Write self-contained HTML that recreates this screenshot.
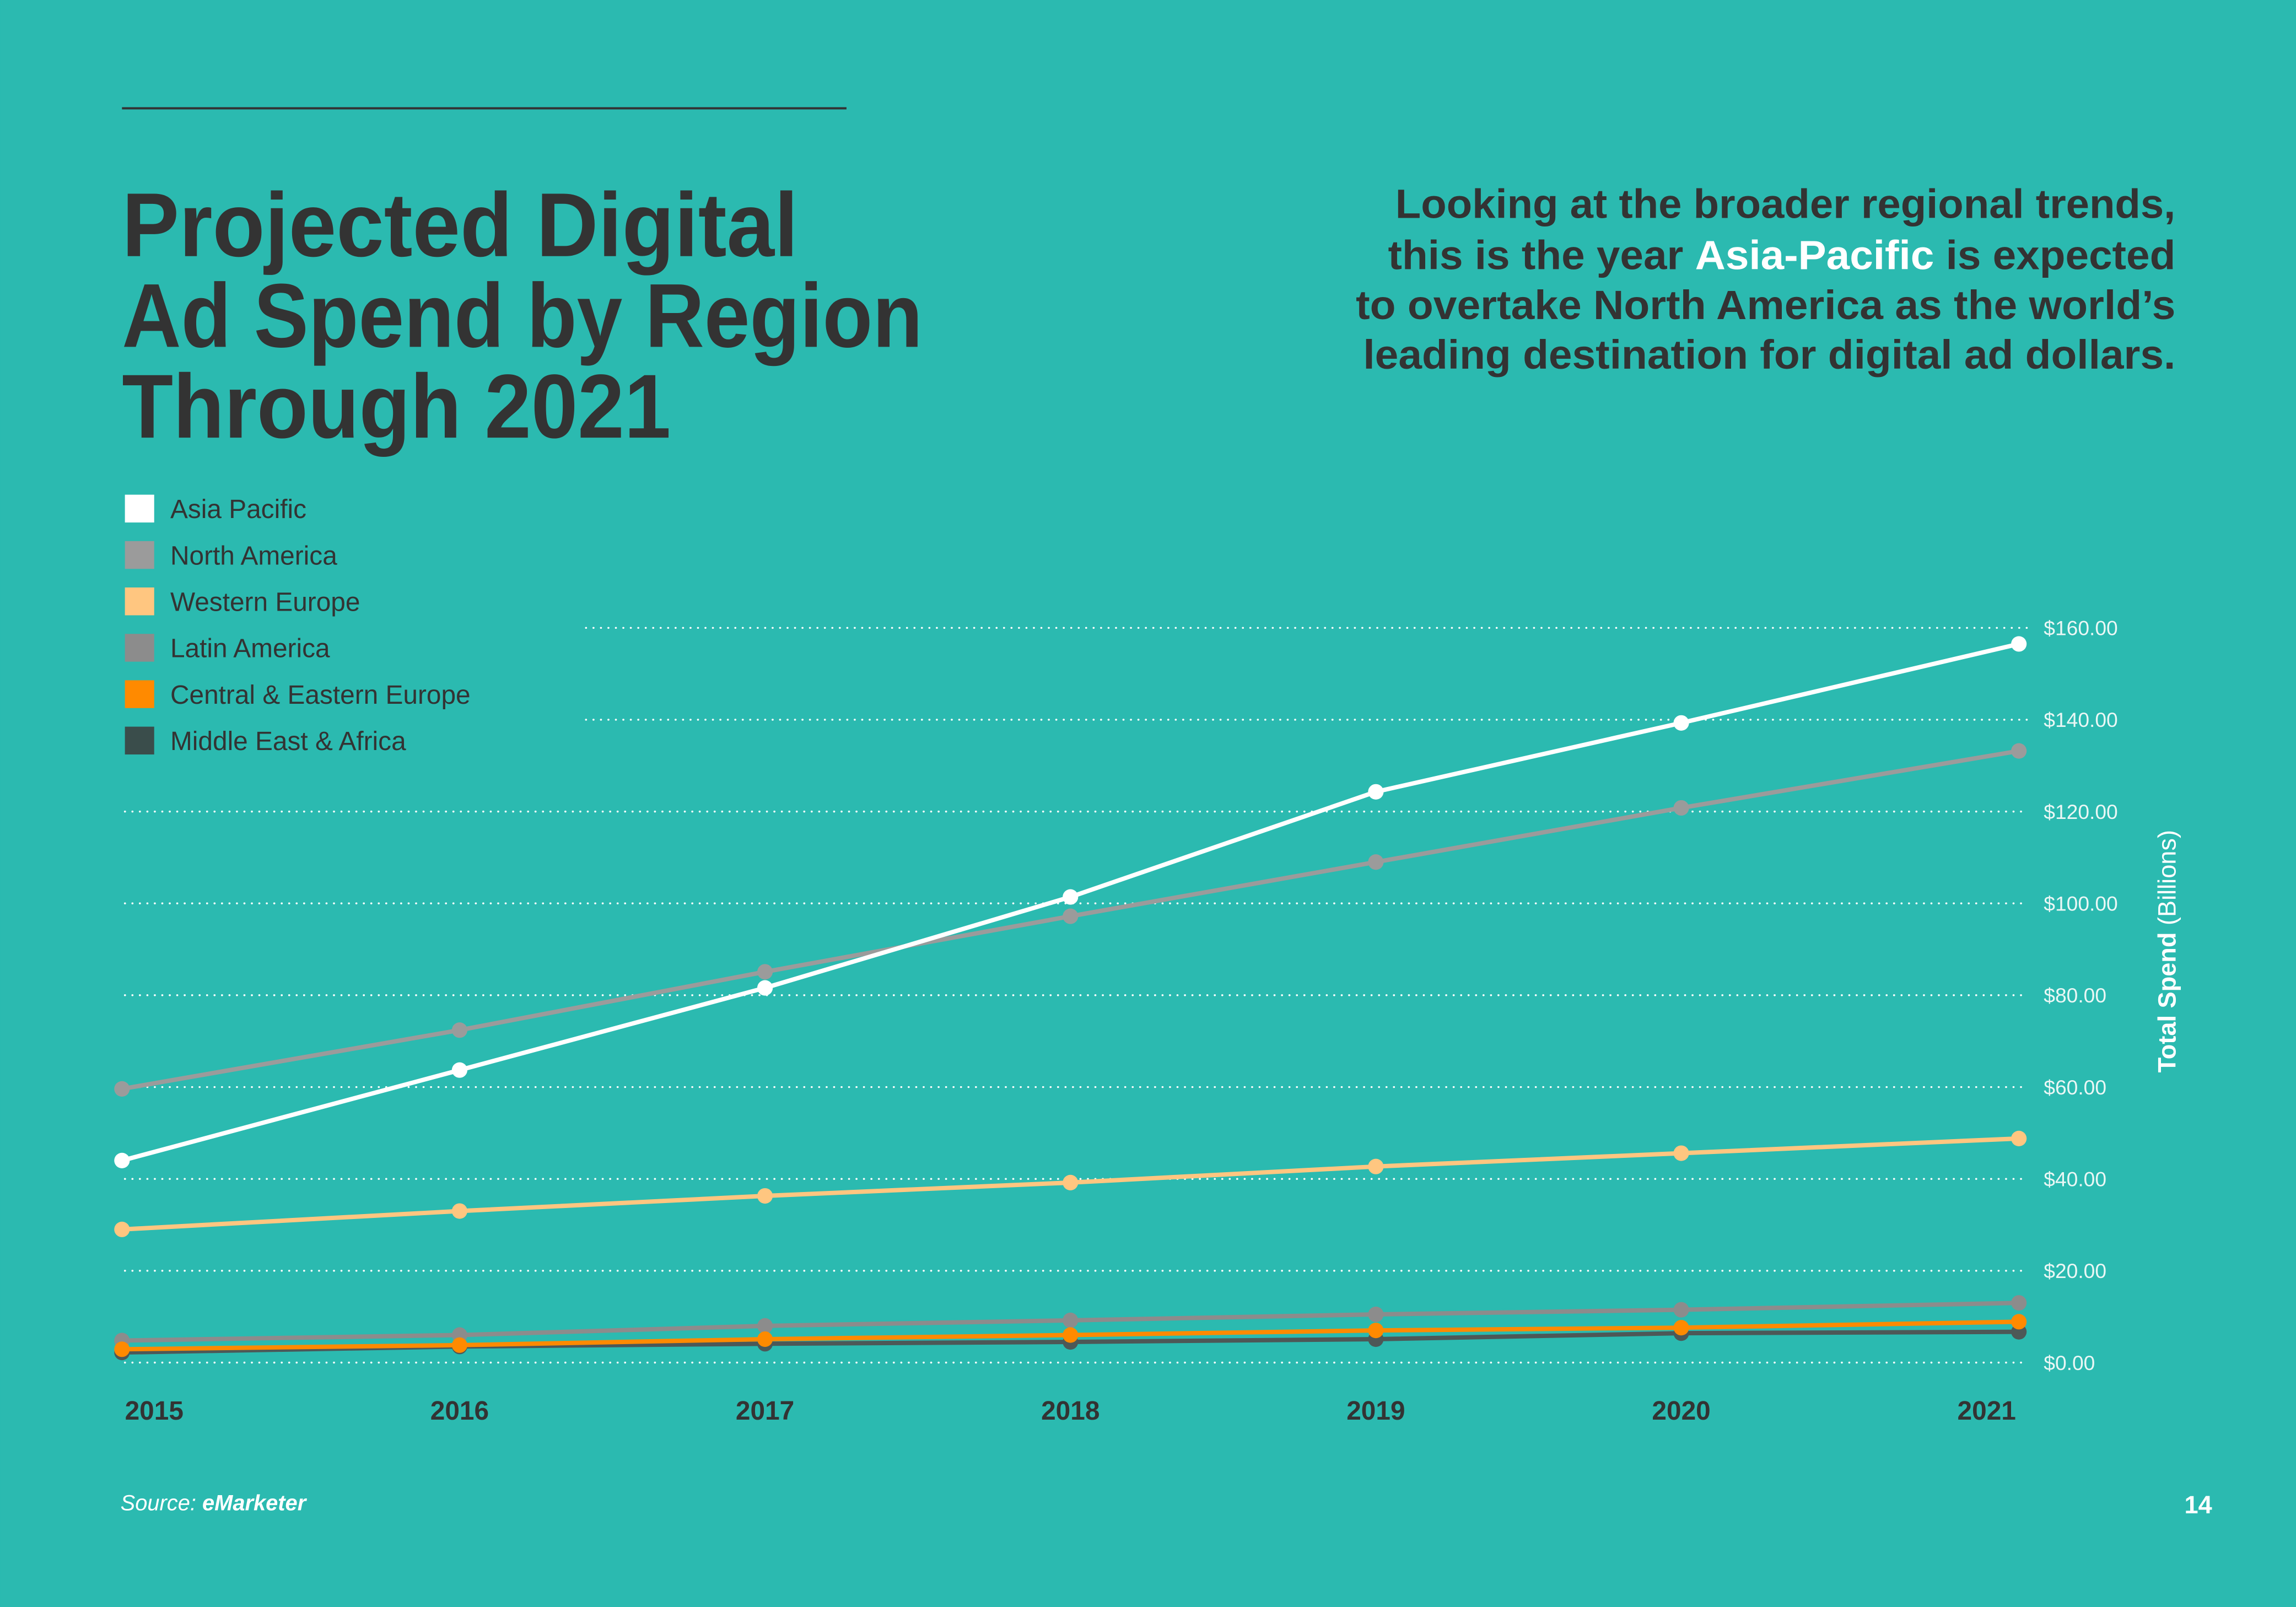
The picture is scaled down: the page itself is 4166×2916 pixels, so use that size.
<!DOCTYPE html>
<html><head><meta charset="utf-8"><style>
html,body{margin:0;padding:0;background:#2bbab0;}
svg{display:block;}
text{font-family:"Liberation Sans",sans-serif;}
</style></head><body>
<svg id="chart" width="4166" height="2916" viewBox="0 0 1568 1098" xmlns="http://www.w3.org/2000/svg">
<rect width="1568" height="1098" fill="#2bbab0"/>
<line x1="83" y1="74" x2="578" y2="74" stroke="#333" stroke-width="1.5"/>
<g fill="#333" font-weight="bold" font-size="62">
<text x="83" y="175" textLength="462" lengthAdjust="spacingAndGlyphs">Projected Digital</text>
<text x="83" y="237" textLength="547" lengthAdjust="spacingAndGlyphs">Ad Spend by Region</text>
<text x="83" y="299" textLength="375" lengthAdjust="spacingAndGlyphs">Through 2021</text>
</g>
<g fill="#333" font-weight="bold" font-size="28" text-anchor="end">
<text x="1486" y="149" textLength="533" lengthAdjust="spacingAndGlyphs">Looking at the broader regional trends,</text>
<text x="1486" y="184" textLength="538" lengthAdjust="spacingAndGlyphs">this is the year <tspan fill="#fff">Asia-Pacific</tspan> is expected</text>
<text x="1486" y="218" textLength="560" lengthAdjust="spacingAndGlyphs">to overtake North America as the world’s</text>
<text x="1486" y="252" textLength="555" lengthAdjust="spacingAndGlyphs">leading destination for digital ad dollars.</text>
</g>
<g id="legend"></g>
<g id="grid"></g>
<g id="series"></g>
<g id="xaxis"></g>
<text transform="translate(1486,650) rotate(-90)" text-anchor="middle" font-size="17" fill="#fff"><tspan font-weight="bold">Total Spend</tspan> (Billions)</text>
<text x="82" y="1032" font-size="15" fill="#fff" font-style="italic">Source: <tspan font-weight="bold">eMarketer</tspan></text>
<text x="1511" y="1034" font-size="17" fill="#fff" font-weight="bold" text-anchor="end">14</text>
</svg>
<script>
const years = ['2015','2016','2017','2018','2019','2020','2021'];
const yTicks = [0,20,40,60,80,100,120,140,160];
const seriesNames = ['Asia Pacific','North America','Western Europe','Latin America','Central & Eastern Europe','Middle East & Africa'];
const asiaPacific = [44,63.7,81.6,101.4,124.3,139.3,156.5];
const northAmerica = [59.6,72.4,85.1,97.2,109,120.8,133.2];
const westernEurope = [29,33,36.3,39.2,42.7,45.6,48.8];
const latinAmerica = [4.8,6,8,9.2,10.5,11.5,13];
const centralEasternEurope = [2.9,3.8,5.1,6,7,7.6,8.9];
const middleEastAfrica = [2.2,3.5,4.1,4.5,5.1,6.4,6.7];

const NS='http://www.w3.org/2000/svg';
const X0=83,X1=1379,Y0=931,Y160=429,XC0=105,XC1=1357;
const xc=i=>XC0+(XC1-XC0)*i/(years.length-1);
const xs=i=>i===0?X0:(i===years.length-1?X1:xc(i));
const ys=v=>Y0-(Y0-Y160)*v/160;
function mk(tag,attrs,parent){const e=document.createElementNS(NS,tag);for(const k in attrs)e.setAttribute(k,attrs[k]);parent.appendChild(e);return e;}

const grid=document.getElementById('grid');
yTicks.forEach(t=>{
  const y=ys(t);
  const l=mk('line',{x1:t>=140?400:85,y1:y,x2:1385,y2:y,stroke:'#fff','stroke-width':1.3,'stroke-dasharray':'0.1 5','stroke-linecap':'round'},grid);
  
  
  const tx=mk('text',{x:1396,y:y+5,'font-size':14,fill:'#eaf7f5'},grid);
  tx.textContent='$'+t.toFixed(2);
  
  
});

const xa=document.getElementById('xaxis');
years.forEach((yr,i)=>{
  const tx=mk('text',{x:xc(i),y:970,'font-size':18,'font-weight':'bold',fill:'#333','text-anchor':'middle'},xa);
  tx.textContent=yr;
  
  
});

const colors=['#ffffff','#9b9b9b','#ffc680','#8c8c8c','#ff8a00','#3a4d4b'];
const lineColors=['#ffffff','#9b9b9b','#ffc680','#8c8c8c','#ff8a00','#4d5857'];
const data=[asiaPacific,northAmerica,westernEurope,latinAmerica,centralEasternEurope,middleEastAfrica];
const slugs=['asia-pacific','north-america','western-europe','latin-america','central-eastern-europe','middle-east-africa'];
const order=[2,1,0,3,5,4];
const sg=document.getElementById('series');
order.forEach(s=>{
  const g=mk('g',{},sg);
  
  
  const pts=data[s].map((v,i)=>xs(i)+','+ys(v)).join(' ');
  const pl=mk('polyline',{points:pts,fill:'none',stroke:lineColors[s],'stroke-width':3,'stroke-linejoin':'round'},g);
  
  
  data[s].forEach((v,i)=>{
    const c=mk('circle',{cx:xs(i),cy:ys(v),r:5.3,fill:lineColors[s]},g);
    
    
  });
});

const lg=document.getElementById('legend');
seriesNames.forEach((n,i)=>{
  const y=338+31.7*i;
  const g=mk('g',{},lg);
  
  
  mk('rect',{x:85,y:y,width:20,height:19,fill:colors[i]},g);
  const t=mk('text',{x:116,y:y+16,'font-size':18,fill:'#333'},g);
  t.textContent=n;
});
</script>
</body></html>
